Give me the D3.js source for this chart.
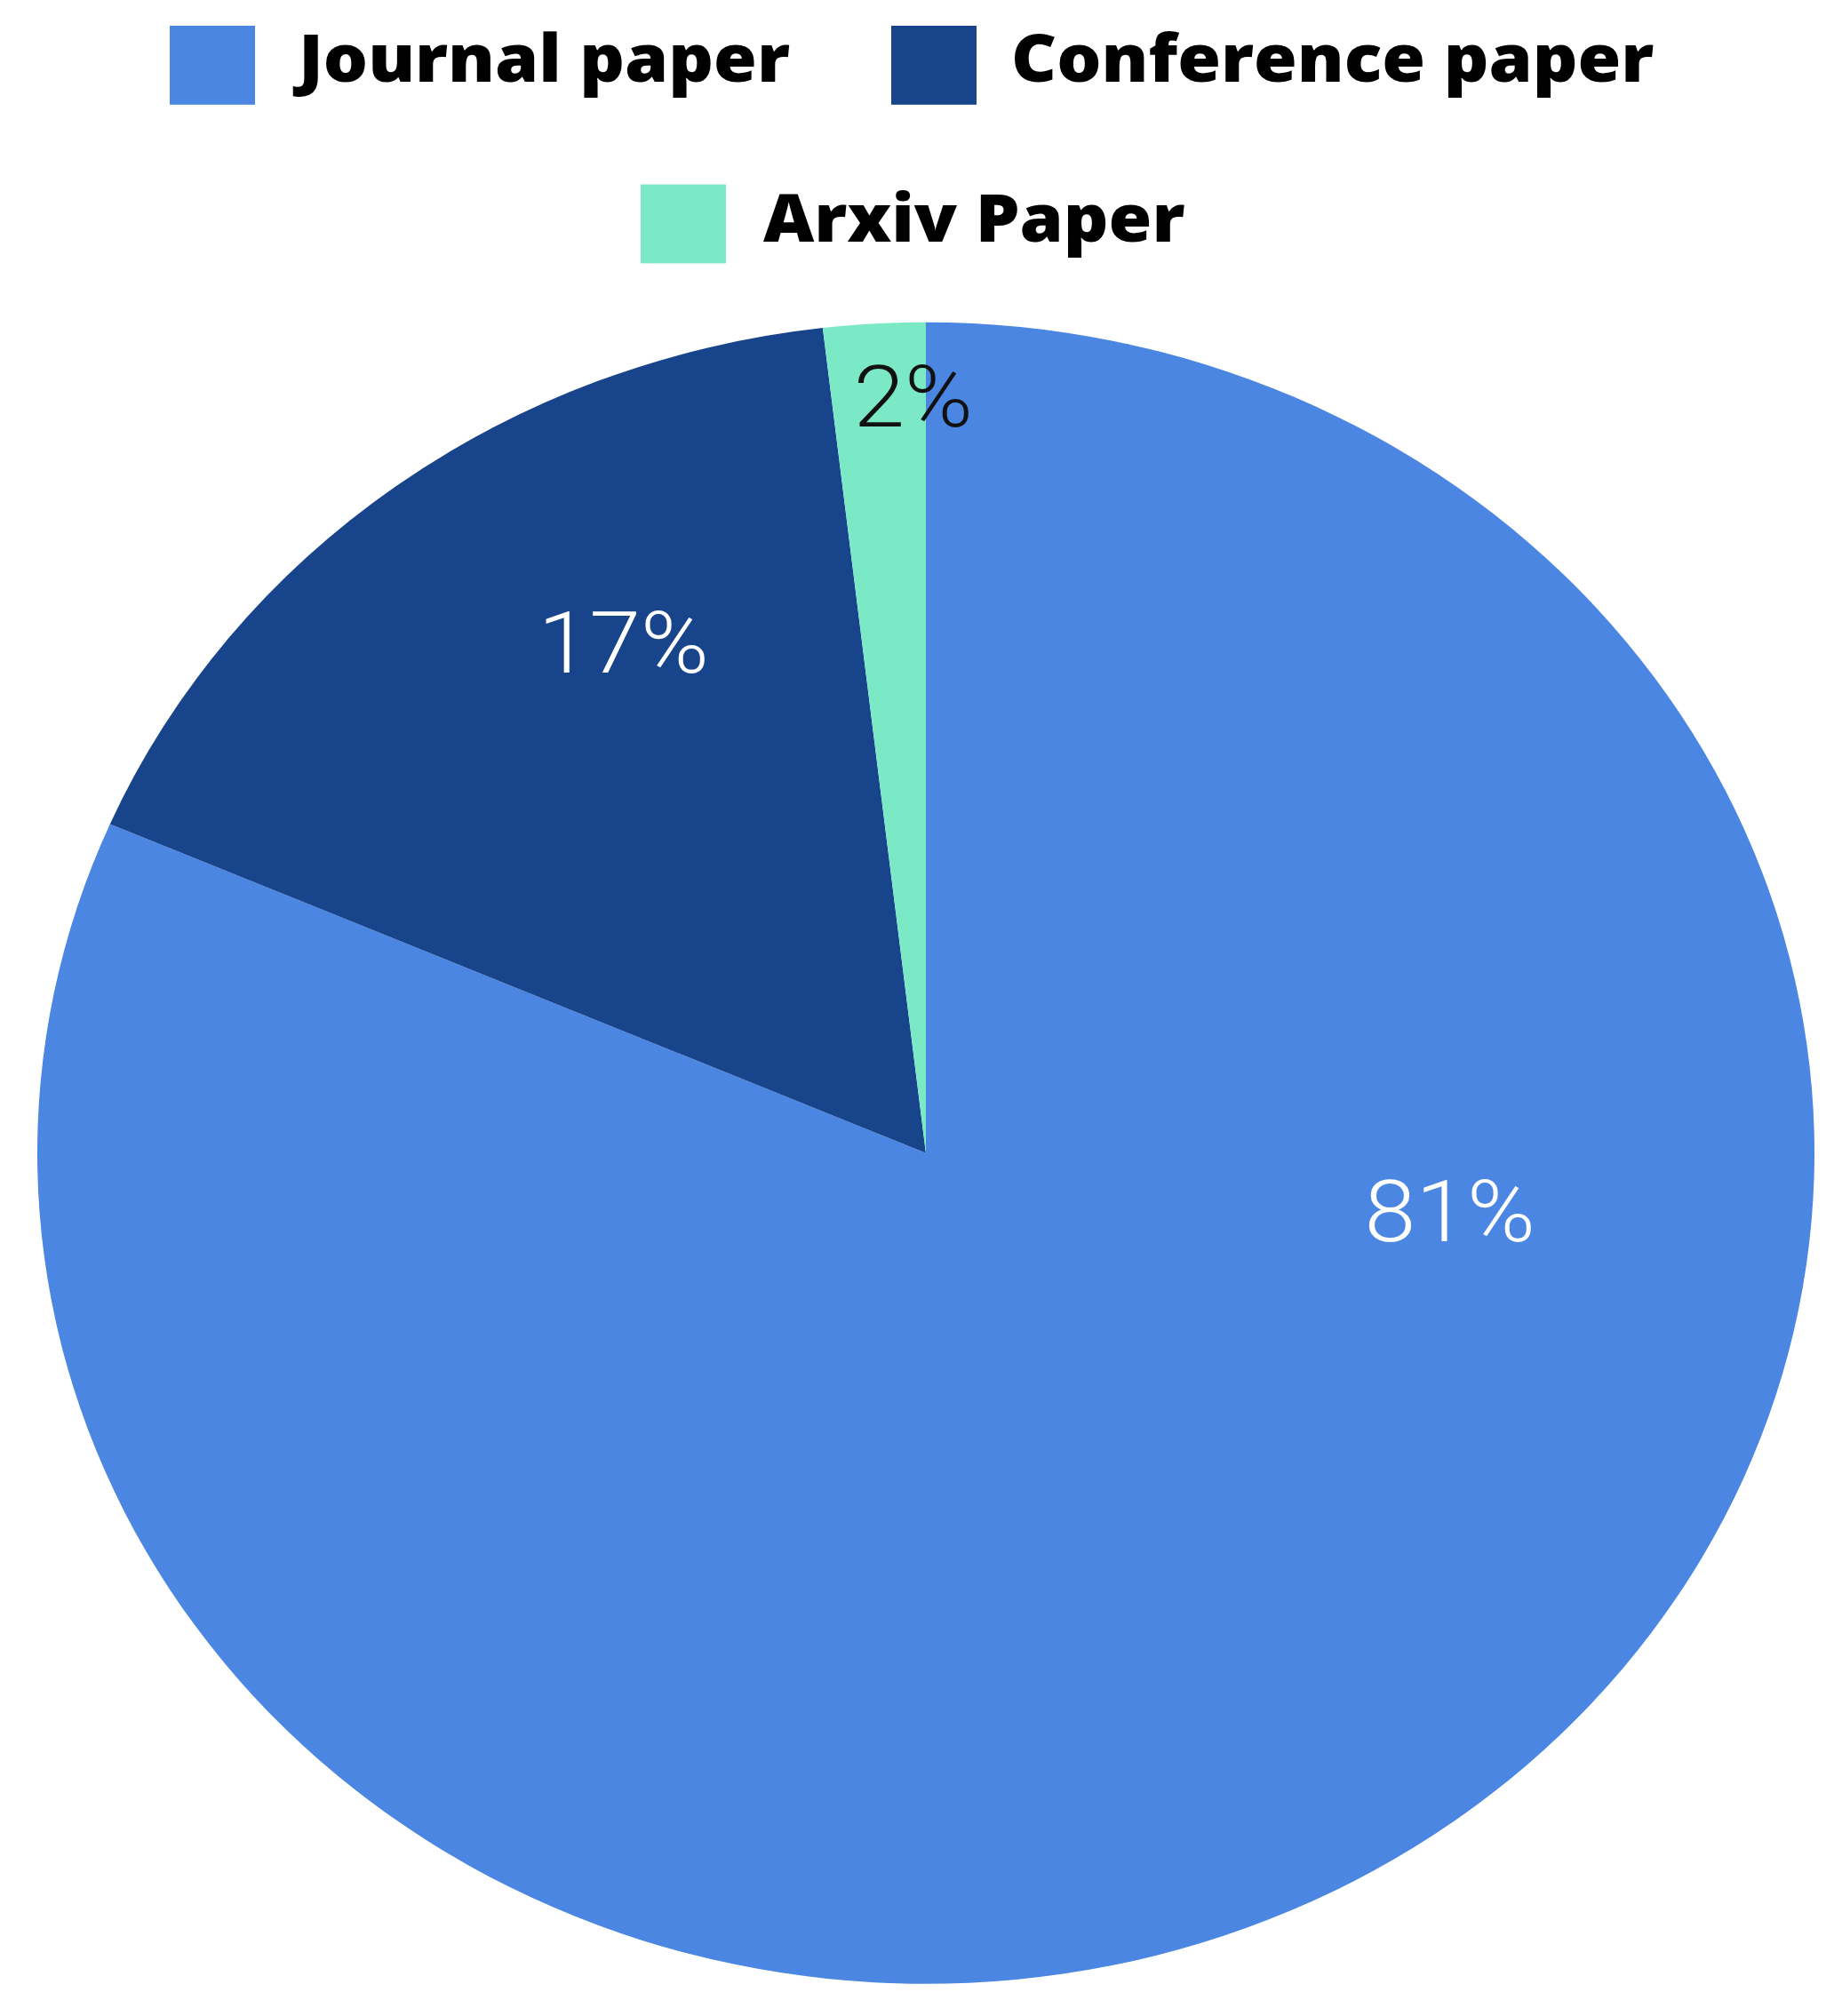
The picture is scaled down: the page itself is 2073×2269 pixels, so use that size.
<!DOCTYPE html>
<html>
<head>
<meta charset="utf-8">
<title>Paper types</title>
<style>
  body { margin: 0; background: #ffffff; }
  .legend text { font-family: "Open Sans", sans-serif; font-weight: 800; font-size: 79px; fill: #000; }
  .pct { font-family: Roboto, sans-serif; font-weight: 300; font-size: 104px; }
</style>
<script src="https://d3js.org/d3.v7.min.js"></script>
</head>
<body>
<div id="chart"></div>
<script>
// data
var categories = ["Journal paper", "Conference paper", "Arxiv Paper"];
var counts = [44, 9, 1];
var colors = ["#4a86e2", "#17448b", "#7be8c6"];
var labelColors = ["#ffffff", "#ffffff", "#111111"];

var W = 2073, H = 2269;
// the picture is a bit squashed vertically, draw round and squeeze with the viewBox
var squash = 0.935;
var VH = H / squash;

var svg = d3.select("#chart").append("svg")
  .attr("width", W)
  .attr("height", H)
  .attr("viewBox", "0 0 " + W + " " + VH)
  .attr("preserveAspectRatio", "none");

var cx = 1042, cy = 1388, radius = 1000;

var total = d3.sum(counts);
var pct = d3.format(".0%");

var pie = d3.pie().sort(null).value(d => d.value);
var arc = d3.arc().innerRadius(0).outerRadius(radius);

var rows = categories.map((c, i) => ({name: c, value: counts[i], i: i}));

var g = svg.append("g").attr("transform", "translate(" + cx + "," + cy + ")");

var slices = g.selectAll("g.slice")
  .data(pie(rows))
  .enter().append("g")
  .attr("class", "slice");

slices.append("path")
  .attr("d", arc)
  .attr("fill", d => colors[d.data.i]);

// label spots (angle clockwise from top in degrees, distance from centre)
var labelSpot = [[96.9, 594], [331, 702], [359.1, 910]];

slices.append("text")
  .attr("class", "pct")
  .attr("text-anchor", "middle")
  .attr("dominant-baseline", "central")
  .attr("x", d => labelSpot[d.data.i][1] * Math.sin(labelSpot[d.data.i][0] * Math.PI / 180))
  .attr("y", d => -labelSpot[d.data.i][1] * Math.cos(labelSpot[d.data.i][0] * Math.PI / 180))
  .style("fill", d => labelColors[d.data.i])
  .text(d => pct(d.data.value / total));

/* legend */
var legendSpot = [
  {x: 191, y: 31, tx: 336, ty: 98},
  {x: 1003, y: 31, tx: 1138, ty: 98},
  {x: 721, y: 222, tx: 859, ty: 291}
];

var legend = svg.append("g").attr("class", "legend");

legend.selectAll("rect")
  .data(rows)
  .enter().append("rect")
  .attr("x", d => legendSpot[d.i].x)
  .attr("y", d => legendSpot[d.i].y)
  .attr("width", 96)
  .attr("height", 95)
  .style("fill", d => colors[d.i]);

legend.selectAll("text")
  .data(rows)
  .enter().append("text")
  .attr("x", d => legendSpot[d.i].tx)
  .attr("y", d => legendSpot[d.i].ty)
  .text(d => d.name);
</script>
</body>
</html>
